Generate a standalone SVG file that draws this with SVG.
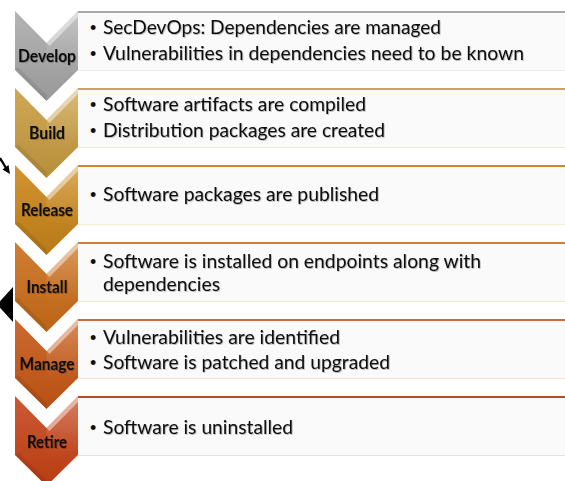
<svg xmlns="http://www.w3.org/2000/svg" width="565" height="481" viewBox="0 0 565 481">
  <style>
    .box { fill: #fafafa; }
    .label { font-family: Lato, "Liberation Sans", sans-serif; font-weight: bold; font-size: 16.5px; fill: #111; text-anchor: middle; filter: url(#soft); }
    .item { font-family: Lato, "Liberation Sans", sans-serif; font-size: 18.5px; fill: #111; filter: url(#soft); }
    .bul { font-family: "Liberation Sans", sans-serif; font-size: 18px; fill: #111; }
    .bevel { fill: #fff; opacity: 0.45; }
    .facet { fill: url(#gloss); }
    .shade { fill: #000; opacity: 0.08; }
  </style>
  <defs>
    <!-- faint text shadow -->
    <filter id="soft" x="-5%" y="-30%" width="110%" height="160%">
      <feDropShadow dx="0.8" dy="0.8" stdDeviation="0.6" flood-color="#000" flood-opacity="0.3"/>
    </filter>
    <!-- soft highlight on the right wing, fading downwards -->
    <linearGradient id="gloss" x1="0" y1="0" x2="0" y2="1">
      <stop offset="0" stop-color="#fff" stop-opacity="0.22"/>
      <stop offset="1" stop-color="#fff" stop-opacity="0"/>
    </linearGradient>
    <!-- chevron body fills, one per stage -->
    <linearGradient id="fDevelop" x1="0" y1="0" x2="0" y2="1">
      <stop offset="0" stop-color="#b4b4b4"/><stop offset="1" stop-color="#999"/>
    </linearGradient>
    <linearGradient id="fBuild" x1="0" y1="0" x2="0" y2="1">
      <stop offset="0" stop-color="#cfa857"/><stop offset="1" stop-color="#b88e3a"/>
    </linearGradient>
    <linearGradient id="fRelease" x1="0" y1="0" x2="0" y2="1">
      <stop offset="0" stop-color="#d29432"/><stop offset="1" stop-color="#b87a16"/>
    </linearGradient>
    <linearGradient id="fInstall" x1="0" y1="0" x2="0" y2="1">
      <stop offset="0" stop-color="#d07e34"/><stop offset="1" stop-color="#bc6416"/>
    </linearGradient>
    <linearGradient id="fManage" x1="0" y1="0" x2="0" y2="1">
      <stop offset="0" stop-color="#cc6a30"/><stop offset="1" stop-color="#b85012"/>
    </linearGradient>
    <linearGradient id="fRetire" x1="0" y1="0" x2="0" y2="1">
      <stop offset="0" stop-color="#cc5a36"/><stop offset="1" stop-color="#b83c10"/>
    </linearGradient>
    <!-- chevron outline: one shape reused for every stage -->
    <path id="chev" d="M15,0 L46.5,32 L78,0 L78,59 L46.5,90 L15,59 Z"/>
    <path id="wingR" d="M46.5,32 L78,0 L78,6 L49.5,35 Z"/>
    <path id="faceR" d="M46.5,32 L78,0 L78,59 L46.5,59 Z"/>
    <path id="faceL" d="M15,59 L46.5,90 L46.5,84 L18,56 Z"/>
  </defs>

  <!-- stray slide marks at the left edge -->
  <g id="marks">
    <path d="M0,158 L6,168" stroke="#000" stroke-width="2.4" fill="none"/>
    <path d="M2.5,169.5 L10,174 L8.5,165 Z" fill="#000"/>
    <path d="M13,287 L13,322 L-3,304.5 Z" fill="#000"/>
  </g>

  <!-- stage: Develop -->
  <g id="develop">
    <rect class="box" x="78" y="11" width="490" height="60"/>
    <line x1="78" y1="12" x2="565" y2="12" stroke="#a9a9a9" stroke-width="2"/>
    <line x1="78" y1="70.5" x2="565" y2="70.5" stroke="#ececec" stroke-width="1"/>
    <g transform="translate(0,11)">
      <use href="#chev" fill="url(#fDevelop)"/>
      <use href="#faceR" class="facet"/>
      <use href="#wingR" class="bevel"/>
      <use href="#faceL" class="shade"/>
    </g>
    <text class="label" x="47" y="62" textLength="58" lengthAdjust="spacingAndGlyphs">Develop</text>
    <text class="bul" x="90" y="34">•</text>
    <text class="item" x="103" y="34" textLength="338" lengthAdjust="spacingAndGlyphs">SecDevOps: Dependencies are managed</text>
    <text class="bul" x="90" y="60">•</text>
    <text class="item" x="103" y="60" textLength="421" lengthAdjust="spacingAndGlyphs">Vulnerabilities in dependencies need to be known</text>
  </g>

  <!-- stage: Build -->
  <g id="build">
    <rect class="box" x="78" y="88" width="490" height="60"/>
    <line x1="78" y1="89" x2="565" y2="89" stroke="#c9a461" stroke-width="2"/>
    <line x1="78" y1="147.5" x2="565" y2="147.5" stroke="#f3ead4" stroke-width="1"/>
    <g transform="translate(0,88)">
      <use href="#chev" fill="url(#fBuild)"/>
      <use href="#faceR" class="facet"/>
      <use href="#wingR" class="bevel"/>
      <use href="#faceL" class="shade"/>
    </g>
    <text class="label" x="47" y="139" textLength="36" lengthAdjust="spacingAndGlyphs">Build</text>
    <text class="bul" x="90" y="111">•</text>
    <text class="item" x="103" y="111" textLength="263" lengthAdjust="spacingAndGlyphs">Software artifacts are compiled</text>
    <text class="bul" x="90" y="137">•</text>
    <text class="item" x="103" y="137" textLength="282" lengthAdjust="spacingAndGlyphs">Distribution packages are created</text>
  </g>

  <!-- stage: Release -->
  <g id="release">
    <rect class="box" x="78" y="165" width="490" height="60"/>
    <line x1="78" y1="166" x2="565" y2="166" stroke="#c98a24" stroke-width="2"/>
    <line x1="78" y1="224.5" x2="565" y2="224.5" stroke="#f6eccc" stroke-width="1"/>
    <g transform="translate(0,165)">
      <use href="#chev" fill="url(#fRelease)"/>
      <use href="#faceR" class="facet"/>
      <use href="#wingR" class="bevel"/>
      <use href="#faceL" class="shade"/>
    </g>
    <text class="label" x="47" y="216" textLength="52" lengthAdjust="spacingAndGlyphs">Release</text>
    <text class="bul" x="90" y="201">•</text>
    <text class="item" x="103" y="201" textLength="276" lengthAdjust="spacingAndGlyphs">Software packages are published</text>
  </g>

  <!-- stage: Install -->
  <g id="install">
    <rect class="box" x="78" y="242" width="490" height="60"/>
    <line x1="78" y1="243" x2="565" y2="243" stroke="#c8803c" stroke-width="2"/>
    <line x1="78" y1="301.5" x2="565" y2="301.5" stroke="#f7e6cc" stroke-width="1"/>
    <g transform="translate(0,242)">
      <use href="#chev" fill="url(#fInstall)"/>
      <use href="#faceR" class="facet"/>
      <use href="#wingR" class="bevel"/>
      <use href="#faceL" class="shade"/>
    </g>
    <text class="label" x="47" y="293" textLength="41" lengthAdjust="spacingAndGlyphs">Install</text>
    <text class="bul" x="90" y="268">•</text>
    <text class="item" x="103" y="268" textLength="378" lengthAdjust="spacingAndGlyphs">Software is installed on endpoints along with</text>
    <text class="item" x="103" y="291" textLength="117" lengthAdjust="spacingAndGlyphs">dependencies</text>
  </g>

  <!-- stage: Manage -->
  <g id="manage">
    <rect class="box" x="78" y="319" width="490" height="60"/>
    <line x1="78" y1="320" x2="565" y2="320" stroke="#c86e40" stroke-width="2"/>
    <line x1="78" y1="378.5" x2="565" y2="378.5" stroke="#f7e2cc" stroke-width="1"/>
    <g transform="translate(0,319)">
      <use href="#chev" fill="url(#fManage)"/>
      <use href="#faceR" class="facet"/>
      <use href="#wingR" class="bevel"/>
      <use href="#faceL" class="shade"/>
    </g>
    <text class="label" x="47" y="370" textLength="55" lengthAdjust="spacingAndGlyphs">Manage</text>
    <text class="bul" x="90" y="344">•</text>
    <text class="item" x="103" y="344" textLength="237" lengthAdjust="spacingAndGlyphs">Vulnerabilities are identified</text>
    <text class="bul" x="90" y="369">•</text>
    <text class="item" x="103" y="369" textLength="287" lengthAdjust="spacingAndGlyphs">Software is patched and upgraded</text>
  </g>

  <!-- stage: Retire -->
  <g id="retire">
    <rect class="box" x="78" y="396" width="490" height="60"/>
    <line x1="78" y1="397" x2="565" y2="397" stroke="#c04a26" stroke-width="2"/>
    <line x1="78" y1="455.5" x2="565" y2="455.5" stroke="#f7dcc8" stroke-width="1"/>
    <g transform="translate(0,396)">
      <use href="#chev" fill="url(#fRetire)"/>
      <use href="#faceR" class="facet"/>
      <use href="#wingR" class="bevel"/>
      <use href="#faceL" class="shade"/>
    </g>
    <text class="label" x="47" y="448" textLength="40" lengthAdjust="spacingAndGlyphs">Retire</text>
    <text class="bul" x="90" y="434">•</text>
    <text class="item" x="103" y="434" textLength="190" lengthAdjust="spacingAndGlyphs">Software is uninstalled</text>
  </g>
</svg>
